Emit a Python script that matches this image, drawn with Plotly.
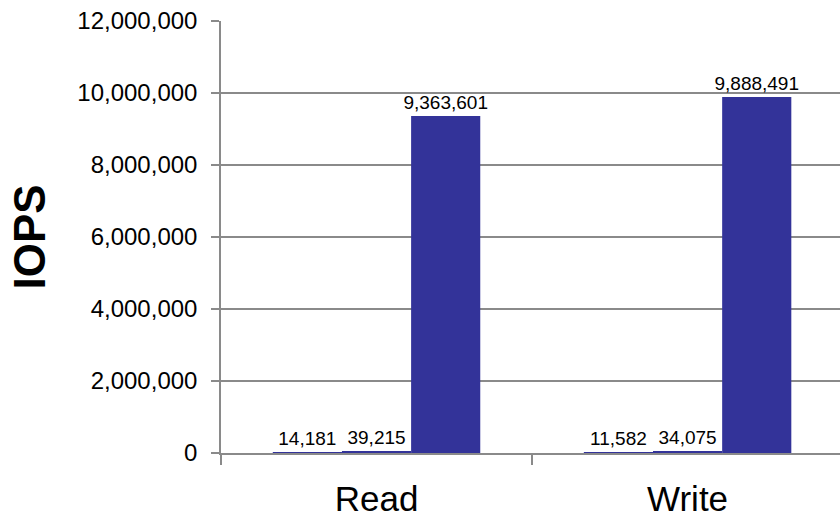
import plotly.graph_objects as go

categories = ["Read", "Write"]
series_a = [14181, 11582]
series_b = [39215, 34075]
series_c = [9363601, 9888491]
y_ticks = [0, 2000000, 4000000, 6000000, 8000000, 10000000, 12000000]

bar_color = "#333399"
grid_color = "#8a8a8a"
font_family = "Liberation Sans, Arial, sans-serif"

fig = go.Figure()
for name, vals in [("A", series_a), ("B", series_b), ("C", series_c)]:
    fig.add_trace(go.Bar(
        x=categories, y=vals, name=name,
        marker=dict(color=bar_color, line=dict(width=0)),
        text=[f"{v:,}" for v in vals],
        textposition="outside",
        constraintext="none",
        textfont=dict(size=19, color="black", family=font_family),
        cliponaxis=False,
    ))

fig.update_layout(
    width=840, height=518,
    margin=dict(l=221, r=0, t=21, b=65),
    barmode="group", bargap=0.333, bargroupgap=0,
    showlegend=False,
    plot_bgcolor="white", paper_bgcolor="white",
    font=dict(family=font_family, color="black"),
    uniformtext=dict(mode=False),
)
fig.update_xaxes(
    automargin=False,
    range=[-0.5, 1.49],
    showline=True, linecolor=grid_color, linewidth=1.5,
    ticks="outside", tickson="boundaries", ticklen=10, tickcolor=grid_color, tickwidth=1.5,
    tickfont=dict(size=35, family=font_family, color="black"),
    ticklabelstandoff=14,
    showgrid=False, zeroline=False,
)
fig.update_yaxes(
    automargin=False,
    range=[0, 12000000],
    tickvals=y_ticks, tickformat=",d",
    showline=True, linecolor=grid_color, linewidth=1.5,
    ticks="outside", ticklen=8, tickcolor=grid_color, tickwidth=1.5,
    tickfont=dict(size=24, family=font_family, color="black"),
    ticklabelstandoff=9,
    showgrid=True, gridcolor=grid_color, gridwidth=1.5,
    zeroline=False,
    title=dict(text="<b>IOPS</b>", font=dict(size=44, family=font_family, color="black"), standoff=18),
)

fig.write_html("out.html")
